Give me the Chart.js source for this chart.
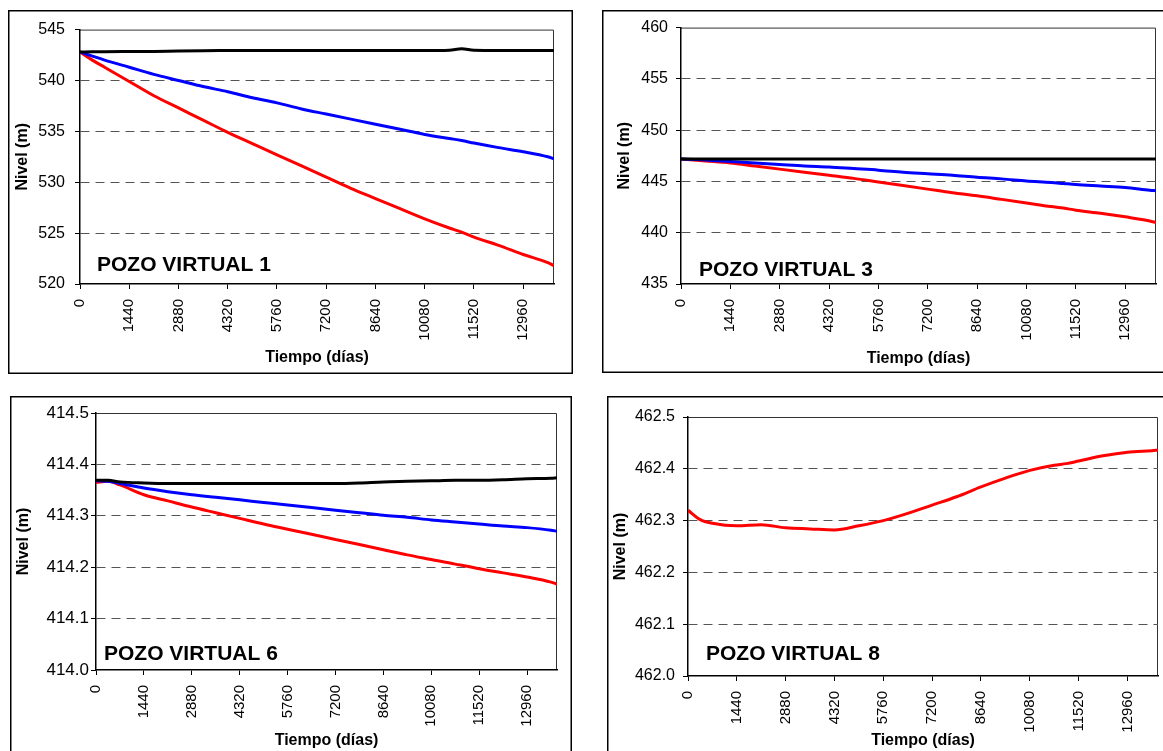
<!DOCTYPE html>
<html>
<head>
<meta charset="utf-8">
<script src="https://cdn.jsdelivr.net/npm/chart.js@4.4.0/dist/chart.umd.min.js"></script>
<style>
html, body { margin: 0; padding: 0; background: #fff; overflow: hidden; width: 1163px; height: 751px; }
canvas { position: absolute; }
</style>
</head>
<body>
<canvas id="pozo1" width="565" height="364" style="left:8px;top:10px"></canvas>
<canvas id="pozo3" width="600" height="363" style="left:602px;top:10px"></canvas>
<canvas id="pozo6" width="562" height="355" style="left:10px;top:396px"></canvas>
<canvas id="pozo8" width="600" height="355" style="left:607px;top:396px"></canvas>
<script>
// tiempo (dias) comun a todas las series
var tiempo = [0, 360, 720, 1440, 2160, 2880, 3600, 4320, 5040, 5760, 6480, 7200, 7920, 8640, 9360, 10080, 10800, 11160, 11520, 12240, 12960, 13680, 13860];
var tiempoTicks = [0, 1440, 2880, 4320, 5760, 7200, 8640, 10080, 11520, 12960];

// POZO VIRTUAL 1
var pozo1Niveles = [520, 525, 530, 535, 540, 545];
var pozo1Negro = [542.8, 542.82, 542.83, 542.84, 542.85, 542.9, 542.93, 542.94, 542.95, 542.95, 542.95, 542.95, 542.95, 542.95, 542.95, 542.95, 542.98, 543.12, 542.97, 542.95, 542.95, 542.95, 542.95];
var pozo1Azul = [542.8, 542.4, 542.0, 541.3, 540.6, 540.0, 539.4, 538.9, 538.3, 537.8, 537.2, 536.7, 536.2, 535.7, 535.2, 534.7, 534.3, 534.1, 533.85, 533.4, 533.0, 532.5, 532.3];
var pozo1Rojo = [542.8, 542.0, 541.3, 539.9, 538.5, 537.3, 536.1, 534.9, 533.8, 532.7, 531.6, 530.5, 529.4, 528.4, 527.4, 526.4, 525.5, 525.1, 524.6, 523.8, 522.9, 522.1, 521.8];

// POZO VIRTUAL 3
var pozo3Niveles = [435, 440, 445, 450, 455, 460];
var pozo3Negro = [447.2, 447.2, 447.2, 447.2, 447.2, 447.2, 447.2, 447.2, 447.2, 447.2, 447.2, 447.2, 447.2, 447.2, 447.2, 447.2, 447.2, 447.2, 447.2, 447.2, 447.2, 447.2, 447.2];
var pozo3Azul = [447.2, 447.15, 447.1, 446.95, 446.8, 446.65, 446.5, 446.4, 446.25, 446.1, 445.9, 445.75, 445.6, 445.4, 445.25, 445.05, 444.9, 444.8, 444.7, 444.55, 444.4, 444.15, 444.1];
var pozo3Rojo = [447.2, 447.1, 447.0, 446.8, 446.5, 446.2, 445.9, 445.6, 445.3, 444.95, 444.6, 444.25, 443.9, 443.6, 443.25, 442.9, 442.55, 442.4, 442.2, 441.9, 441.55, 441.15, 441.0];

// POZO VIRTUAL 6
var pozo6Niveles = [414.0, 414.1, 414.2, 414.3, 414.4, 414.5];
var pozo6Negro = [414.369, 414.369, 414.366, 414.364, 414.363, 414.363, 414.363, 414.363, 414.363, 414.363, 414.363, 414.363, 414.364, 414.366, 414.367, 414.368, 414.369, 414.369, 414.369, 414.37, 414.372, 414.373, 414.374];
var pozo6Azul = [414.368, 414.367, 414.363, 414.354, 414.347, 414.341, 414.336, 414.331, 414.326, 414.321, 414.316, 414.311, 414.306, 414.301, 414.297, 414.292, 414.288, 414.286, 414.284, 414.28, 414.277, 414.272, 414.27];
var pozo6Rojo = [414.365, 414.367, 414.36, 414.341, 414.329, 414.317, 414.306, 414.295, 414.284, 414.274, 414.264, 414.254, 414.244, 414.234, 414.224, 414.215, 414.206, 414.202, 414.197, 414.189, 414.181, 414.171, 414.167];

// POZO VIRTUAL 8
var pozo8Niveles = [462.0, 462.1, 462.2, 462.3, 462.4, 462.5];
var pozo8Rojo = [462.32, 462.302, 462.295, 462.29, 462.292, 462.286, 462.284, 462.282, 462.29, 462.3, 462.314, 462.33, 462.346, 462.365, 462.382, 462.397, 462.407, 462.41, 462.415, 462.425, 462.432, 462.435, 462.436];

Chart.defaults.font.family = "'Liberation Sans', Arial, sans-serif";
Chart.defaults.color = '#000';
Chart.defaults.animation = false;

function serie(valores, color) {
    return {
        data: valores.map(function (v, i) { return {x: tiempo[i], y: v}; }),
        borderColor: color,
        backgroundColor: color,
        borderWidth: 3,
        pointRadius: 0,
        fill: false,
        cubicInterpolationMode: 'monotone'
    };
}

// marco exterior, borde del area de trazado y rotulo del pozo
var marco = {
    id: 'marco',
    beforeDraw: function (chart, args, opts) {
        var c = chart.ctx, a = chart.chartArea;
        c.save();
        c.fillStyle = '#fff';
        c.fillRect(0, 0, chart.width, chart.height);
        c.strokeStyle = '#000';
        c.lineWidth = 1.5;
        c.strokeRect(0.75, 0.75, chart.width - 1.5, opts.abierto ? chart.height + 10 : chart.height - 1.5);
        c.strokeStyle = '#333';
        c.lineWidth = 1;
        c.beginPath();
        c.moveTo(a.left, a.top + 0.5);
        c.lineTo(a.right - 0.5, a.top + 0.5);
        c.lineTo(a.right - 0.5, a.bottom);
        c.stroke();
        c.restore();
    },
    afterDatasetsDraw: function (chart, args, opts) {
        var c = chart.ctx, a = chart.chartArea;
        c.save();
        c.fillStyle = '#000';
        c.font = "bold 21px 'Liberation Sans', Arial, sans-serif";
        c.textBaseline = 'alphabetic';
        c.fillText(opts.texto, a.left + opts.dx, a.bottom - opts.dy);
        c.restore();
    }
};

function crearPozo(id, p) {
    var niveles = p.niveles;
    return new Chart(document.getElementById(id), {
        type: 'line',
        data: {datasets: p.series},
        plugins: [marco],
        options: {
            responsive: false,
            layout: {padding: {left: 0, top: p.area[1], right: p.ancho - p.area[2], bottom: 0}},
            plugins: {
                legend: {display: false},
                tooltip: {enabled: false},
                marco: {texto: p.texto, dx: p.texto_dx, dy: p.texto_dy, abierto: p.abierto}
            },
            scales: {
                x: {
                    type: 'linear',
                    min: 0,
                    max: 13860,
                    afterBuildTicks: function (s) { s.ticks = tiempoTicks.map(function (v) { return {value: v}; }); },
                    afterFit: function (s) { s.height = p.alto - p.area[3]; },
                    ticks: {minRotation: 90, maxRotation: 90, padding: 10, autoSkip: false, font: {size: 15},
                        callback: function (v) { return String(v); }},
                    grid: {drawOnChartArea: false, tickColor: '#000', tickLength: 5, tickWidth: 1},
                    border: {display: true, color: '#000', width: 1.5},
                    title: {display: true, text: 'Tiempo (días)', font: {size: 16, weight: 'bold'},
                        padding: {top: 0, bottom: p.xTitulo}}
                },
                y: {
                    min: niveles[0],
                    max: niveles[niveles.length - 1],
                    afterBuildTicks: function (s) { s.ticks = niveles.map(function (v) { return {value: v}; }); },
                    afterFit: function (s) { s.width = p.area[0]; },
                    ticks: {padding: p.yPad, font: {size: p.yFuente},
                        callback: function (v) { return v.toFixed(p.decimales); }},
                    grid: {
                        color: function (ctx) {
                            return (ctx.index === 0 || ctx.index === niveles.length - 1) ? 'rgba(0,0,0,0)' : '#555';
                        },
                        lineWidth: 1,
                        tickColor: '#000',
                        tickLength: 5,
                        tickWidth: 1
                    },
                    border: {display: true, color: '#000', width: 1.5, dash: [9, 6]},
                    title: {display: true, text: 'Nivel (m)', font: {size: 16, weight: 'bold'},
                        padding: {top: p.yTitulo, bottom: 0}}
                }
            }
        }
    });
}

crearPozo('pozo1', {
    ancho: 565, alto: 364, area: [72, 14, 546, 274],
    niveles: pozo1Niveles, decimales: 0, yPad: 10, yFuente: 16, yTitulo: 5, xTitulo: 7,
    texto: 'POZO VIRTUAL 1', texto_dx: 17, texto_dy: 13, abierto: false,
    series: [serie(pozo1Negro, '#000000'), serie(pozo1Azul, '#0000ff'), serie(pozo1Rojo, '#ff0000')]
});

crearPozo('pozo3', {
    ancho: 600, alto: 363, area: [79, 14, 554, 274],
    niveles: pozo3Niveles, decimales: 0, yPad: 8, yFuente: 16, yTitulo: 13, xTitulo: 5,
    texto: 'POZO VIRTUAL 3', texto_dx: 18, texto_dy: 8, abierto: false,
    series: [serie(pozo3Negro, '#000000'), serie(pozo3Azul, '#0000ff'), serie(pozo3Rojo, '#ff0000')]
});

crearPozo('pozo6', {
    ancho: 562, alto: 355, area: [86, 17, 547, 274],
    niveles: pozo6Niveles, decimales: 1, yPad: 2, yFuente: 17, yTitulo: 4, xTitulo: 1,
    texto: 'POZO VIRTUAL 6', texto_dx: 8, texto_dy: 10, abierto: true,
    series: [serie(pozo6Negro, '#000000'), serie(pozo6Azul, '#0000ff'), serie(pozo6Rojo, '#ff0000')]
});

crearPozo('pozo8', {
    ancho: 600, alto: 355, area: [81, 21, 551, 280],
    niveles: pozo8Niveles, decimales: 1, yPad: 8, yFuente: 16, yTitulo: 4, xTitulo: 1,
    texto: 'POZO VIRTUAL 8', texto_dx: 18, texto_dy: 16, abierto: true,
    series: [serie(pozo8Rojo, '#ff0000')]
});
</script>
</body>
</html>
